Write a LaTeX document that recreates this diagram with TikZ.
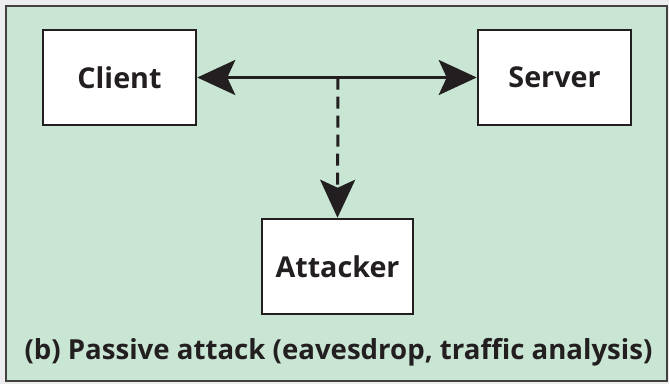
\documentclass[tikz,border=0pt]{standalone}
\usepackage{fontspec}
\setmainfont{Open Sans}[BoldFont={Open Sans Bold}]
\usetikzlibrary{arrows.meta}
\definecolor{panelgreen}{HTML}{C9E5D3}
\definecolor{pagegray}{HTML}{EDEDEF}
\definecolor{inkdark}{HTML}{231F20}
\tikzset{
  kite/.tip={Stealth[length=38bp,width=35bp,inset=8bp]},
}
\begin{document}
\begin{tikzpicture}[x=1bp,y=-1bp,
  partybox/.style={draw=inkdark,line width=2.5bp,fill=white,minimum width=153bp,minimum height=95bp,inner sep=0pt,font=\fontsize{28.8}{32}\selectfont\bfseries,text=inkdark},
  link/.style={line width=3bp,draw=inkdark,inkdark}]
  % page and panel
  \fill[pagegray] (0,0) rectangle (669,384);
  \useasboundingbox (0,0) rectangle (669,384);
  \draw[draw=inkdark!85,line width=2bp,fill=panelgreen] (6,6) rectangle (667,381);
  % parties
  \node[partybox] (client) at (119.5,77.5) {Client};
  \node[partybox] (server) at (554.5,77.5) {Server};
  \node[partybox,minimum width=151bp] (attacker) at (337.5,266.5) {Attacker};
  % two-way channel and the eavesdropping tap
  \draw[link,kite-kite] (client.east) -- (server.west);
  \coordinate (tap) at (338,77.5);
  \draw[link,-kite,dash pattern=on 12bp off 7bp] (tap) -- (attacker.north);
  % caption
  \node[font=\fontsize{27.7}{32}\selectfont\bfseries,text=inkdark,anchor=base] (caption) at (338.5,359.5) {(b) Passive attack (eavesdrop, traffic analysis)};
\end{tikzpicture}
\end{document}
